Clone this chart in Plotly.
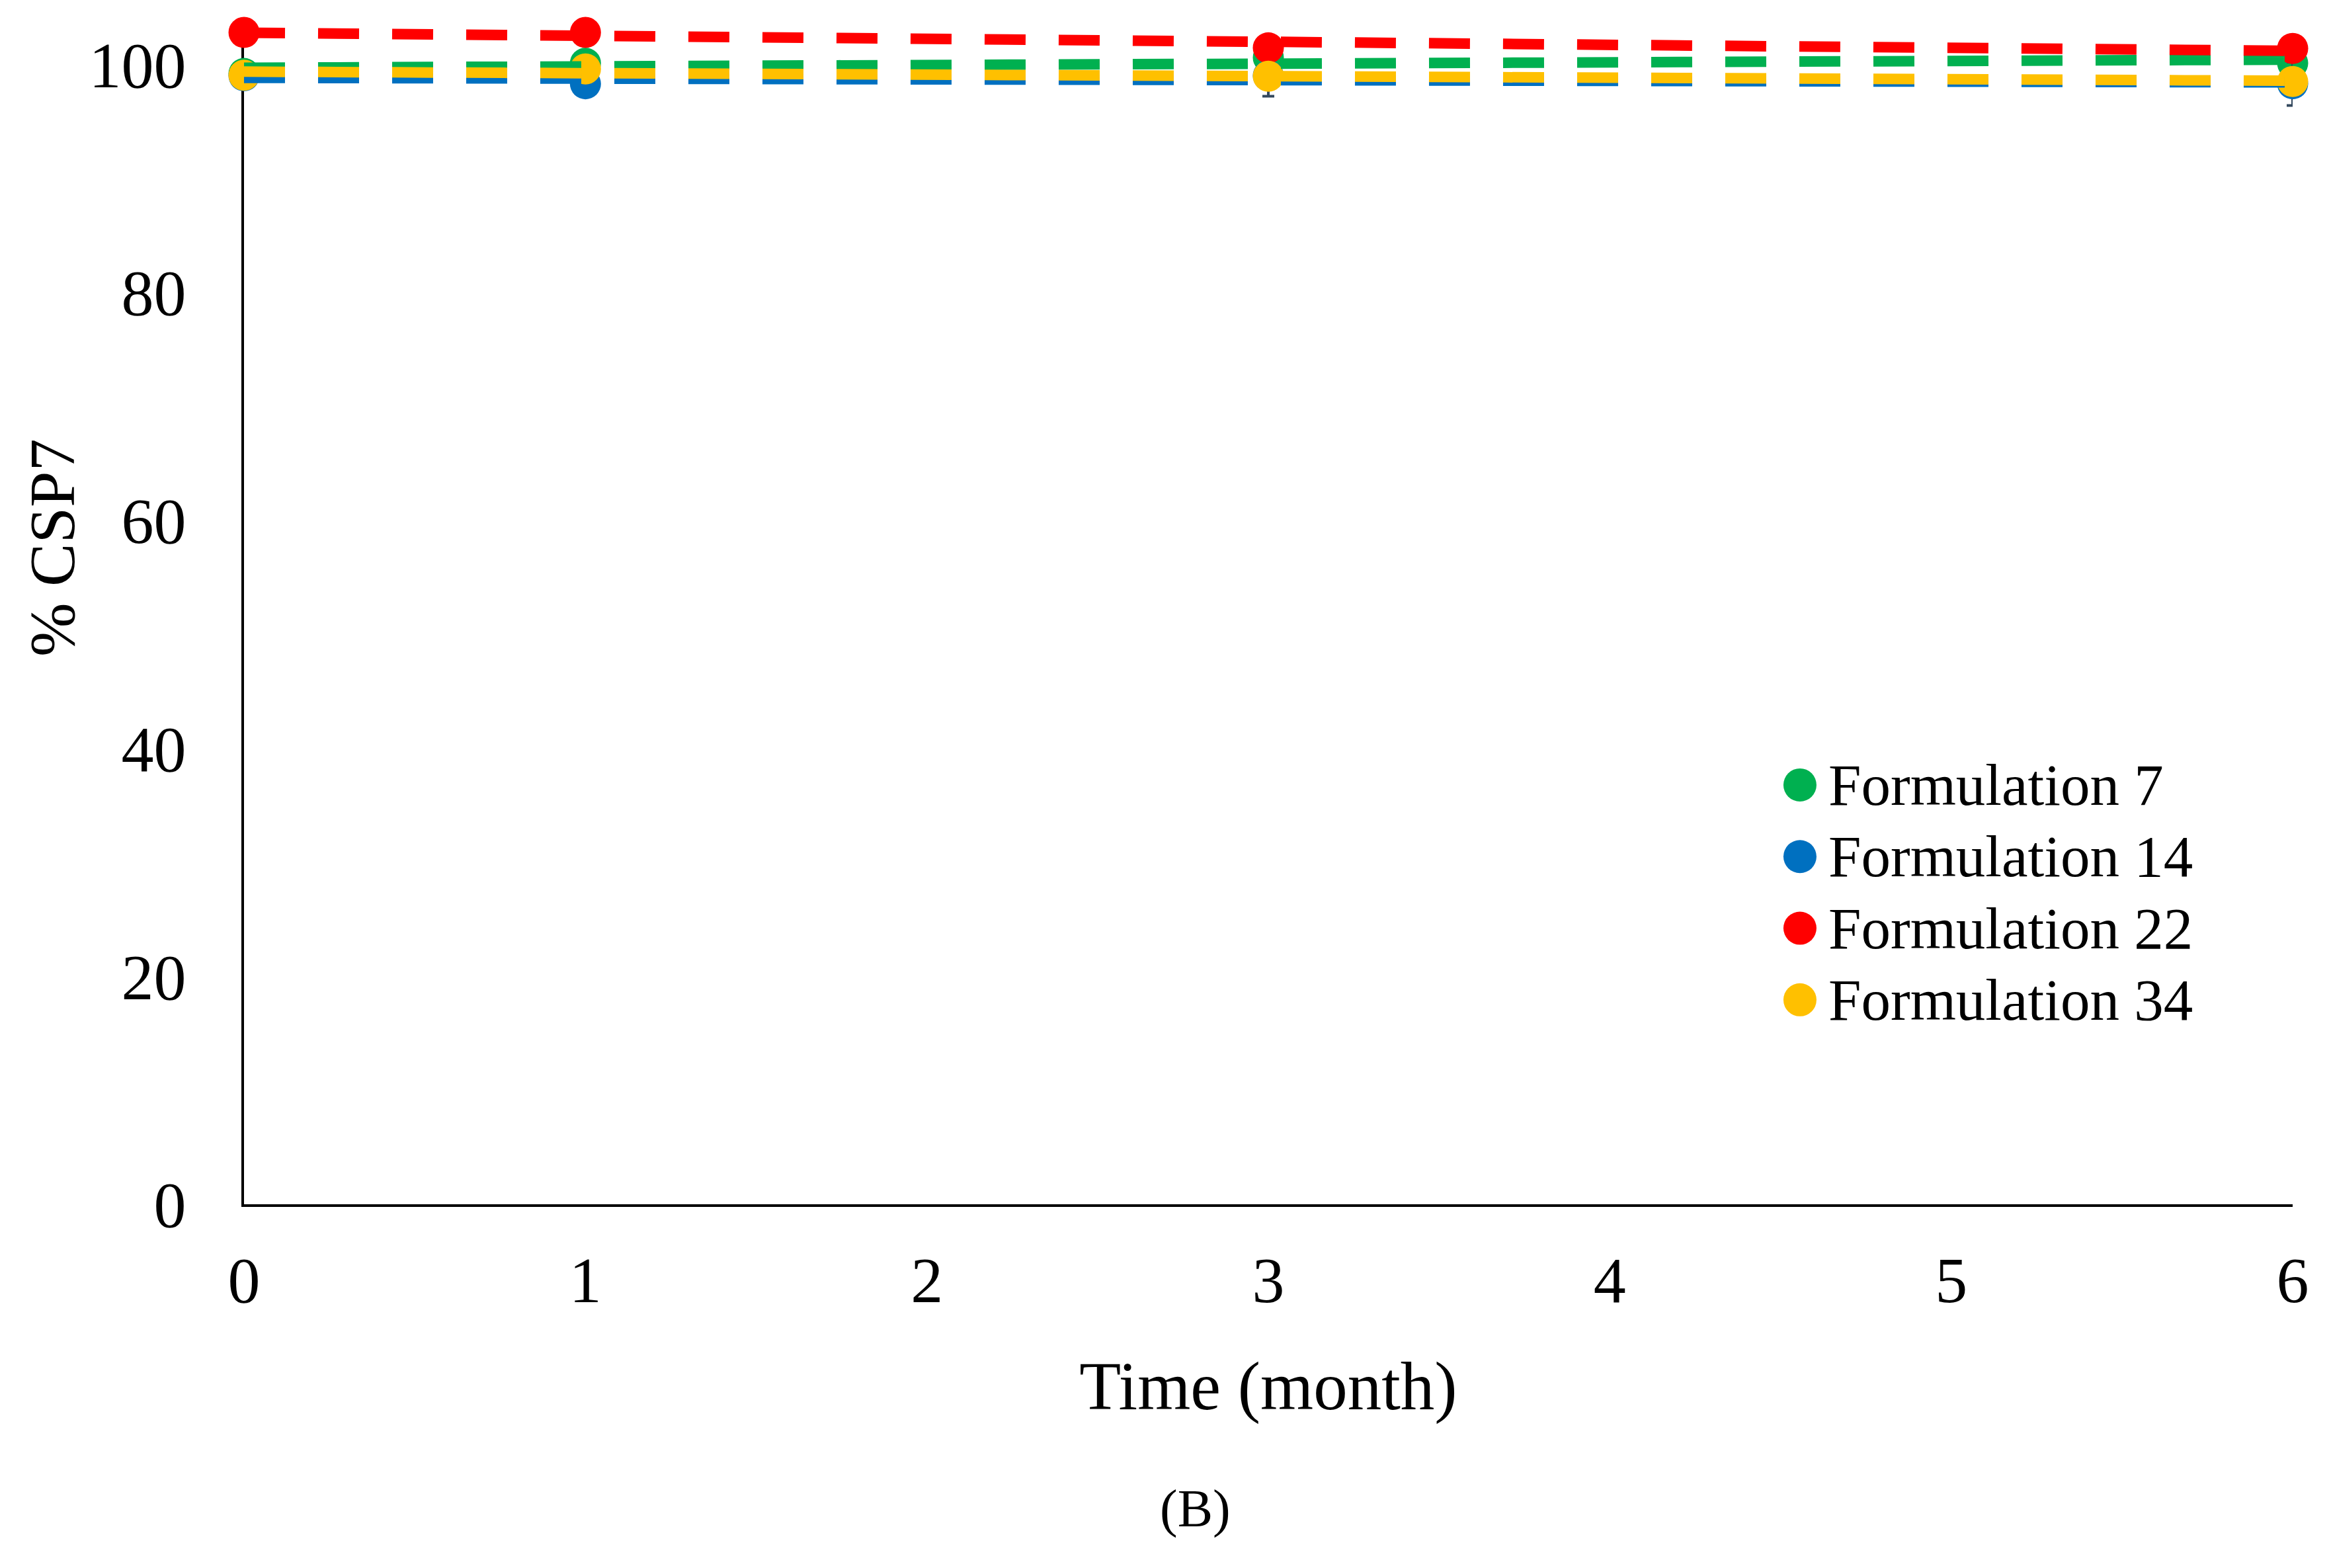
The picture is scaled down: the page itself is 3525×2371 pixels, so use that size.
import numpy as np
import plotly.graph_objects as go

# ---- data ----
times = [0, 1, 3, 6]
series_names = ["Formulation 7", "Formulation 14", "Formulation 22", "Formulation 34"]
f7 = [99.2, 100.1, 100.6, 100.1]
f14 = [99.0, 98.3, 99.0, 98.3]
f22 = [102.8, 102.8, 101.45, 101.4]
f34 = [99.05, 99.6, 98.96, 98.5]
err7 = [0.4, 0.5, 0.6, 0.5]
err14 = [0.5, 0.6, 1.8, 1.9]
err22 = [0.4, 0.5, 0.5, 0.6]
err34 = [0.5, 0.6, 0.8, 0.7]
colors = ["#00B050", "#0070C0", "#FF0000", "#FFC000"]
x_ticks = [0, 1, 2, 3, 4, 5, 6]
y_ticks = [0, 20, 40, 60, 80, 100]

values = [f7, f14, f22, f34]
errors = [err7, err14, err22, err34]

FONT = "Liberation Serif"
fig = go.Figure()

# data markers
for name, vals, errs, col in zip(series_names, values, errors, colors):
    fig.add_trace(go.Scatter(
        x=times, y=vals, mode="markers", name=name,
        marker=dict(size=47, color=col, line=dict(width=0)),
        error_y=dict(type="data", array=errs, visible=True,
                     color="#34495E", thickness=4, width=9),
        cliponaxis=False, showlegend=False,
    ))

# linear trendlines (dashed), computed from the data
for name, vals, col in zip(series_names, values, colors):
    slope, icpt = np.polyfit(times, vals, 1)
    xs = [times[0], times[-1]]
    fig.add_trace(go.Scatter(
        x=xs, y=[icpt + slope * xv for xv in xs], mode="lines",
        line=dict(color=col, width=16, dash="62px,50px"),
        cliponaxis=False, showlegend=False, hoverinfo="skip",
    ))

# custom legend (large round markers like the reference)
leg_x_marker = 0.7595
leg_x_text = 0.7729
leg_y0 = 0.3554
leg_step = 0.0607
for i, (name, col) in enumerate(zip(series_names, colors)):
    yy = leg_y0 - i * leg_step
    fig.add_shape(type="circle", xref="paper", yref="paper",
                  xsizemode="pixel", ysizemode="pixel",
                  xanchor=leg_x_marker, yanchor=yy,
                  x0=-25, x1=25, y0=-25, y1=25,
                  fillcolor=col, line=dict(width=0))
    fig.add_annotation(text=name, xref="paper", yref="paper",
                       x=leg_x_text, y=yy, xanchor="left", yanchor="middle",
                       showarrow=False, font=dict(family=FONT, size=89, color="black"))

# y-axis title and panel label
fig.add_annotation(text="% CSP7", xref="paper", yref="paper", x=-0.0936, y=0.5566,
                   textangle=-90, showarrow=False, xanchor="center", yanchor="middle",
                   font=dict(family=FONT, size=98, color="black"))
fig.add_annotation(text="(B)", xref="paper", yref="paper", x=0.4642, y=-0.258,
                   showarrow=False, xanchor="center", yanchor="middle",
                   font=dict(family=FONT, size=80, color="black"))

# the page body has an 8px default margin, so the figure is 16px smaller
fig.update_layout(
    width=3509, height=2355,
    margin=dict(l=361, r=50, t=29, b=542),
    paper_bgcolor="white", plot_bgcolor="white",
    font=dict(family=FONT, size=98, color="black"),
    showlegend=False,
    xaxis=dict(range=[0, 6], tickvals=x_ticks, ticktext=[str(v) for v in x_ticks],
               showgrid=False, zeroline=False, showline=True, linecolor="black",
               linewidth=4, ticks="", ticklabelstandoff=26, layer="below traces",
               title=dict(text="Time (month)", standoff=71,
                          font=dict(family=FONT, size=103, color="black")),
               tickfont=dict(family=FONT, size=98, color="black")),
    yaxis=dict(range=[0, 103.5], tickvals=y_ticks, ticktext=[str(v) for v in y_ticks],
               showgrid=False, zeroline=False, showline=True, linecolor="black",
               linewidth=4, ticks="", ticklabelstandoff=64, layer="below traces",
               tickfont=dict(family=FONT, size=98, color="black")),
)

fig.write_html("out.html")
